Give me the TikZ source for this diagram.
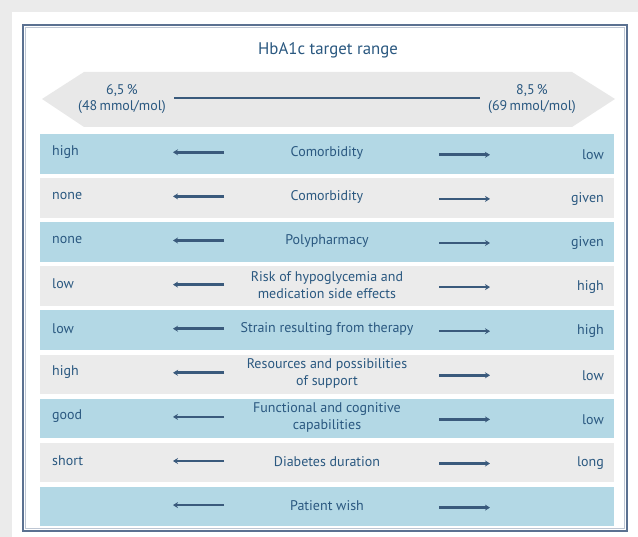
\documentclass[tikz,border=0pt]{standalone}
\usepackage{fontspec}
\setmainfont{PT Sans}
\usetikzlibrary{arrows.meta}

\definecolor{pagegrey}{HTML}{EBEBEB}
\definecolor{framecol}{HTML}{5B7191}
\definecolor{rowblue}{HTML}{B3D8E5}
\definecolor{rowgrey}{HTML}{EBEBEB}
\definecolor{bandgrey}{HTML}{E8E8E8}
\definecolor{textblue}{HTML}{2A5880}
\definecolor{arrowcol}{HTML}{3A5A7C}

\tikzset{
  rowbox/.style={draw=none, minimum width=574pt, minimum height=39.5pt, inner sep=0pt},
  lefttext/.style={anchor=west, text=textblue, font=\fontsize{14}{16}\selectfont, inner sep=0pt},
  righttext/.style={anchor=east, text=textblue, font=\fontsize{14}{16}\selectfont, inner sep=0pt},
  midtext/.style={text=textblue, font=\fontsize{14}{16.5}\selectfont, align=center, inner sep=0pt},
  trend/.style={draw=arrowcol, line width=2.6pt, -{Stealth[length=5pt,width=6pt]}},
  rangeline/.style={draw=arrowcol, line width=2.6pt},
}

\begin{document}
\begin{tikzpicture}[x=1pt, y=-1pt]
  \useasboundingbox (0,0) rectangle (638,537);
  % page background and white panel
  \fill[pagegrey] (0,0) rectangle (638,537);
  \fill[white] (12,12) rectangle (638,537);
  % outer frame
  \draw[framecol, line width=2.4pt] (23,25) rectangle (627,531);
  \draw[framecol!40, line width=0.8pt] (25.8,27.8) rectangle (624.2,528.2);

  % title
  \node[text=textblue, font=\fontsize{16.8}{20}\selectfont] (title) at (328,50) {HbA1c target range};

  % double-headed range band
  \fill[bandgrey] (42,99) -- (84,72) -- (572,72) -- (615,99) -- (572,127) -- (84,127) -- cycle;
  \node[midtext] (lo) at (122,99) {6,5\,\%\\(48\,mmol/mol)};
  \node[midtext] (hi) at (532,99) {8,5\,\%\\(69\,mmol/mol)};
  \coordinate (rl) at (174,98);
  \coordinate (rr) at (480,98);
  \draw[rangeline] (rl) -- (rr);

  % criteria rows
  \foreach \i/\col/\lt/\mt/\rt in {
      0/rowblue/high/Comorbidity/low,
      1/rowgrey/none/Comorbidity/given,
      2/rowblue/none/Polypharmacy/given,
      3/rowgrey/low/{Risk of hypoglycemia and\\medication side effects}/high,
      4/rowblue/low/Strain resulting from therapy/high,
      5/rowgrey/high/{Resources and possibilities\\of support}/low,
      6/rowblue/good/{Functional and cognitive\\capabilities}/low,
      7/rowgrey/short/Diabetes duration/long,
      8/rowblue//Patient wish/} {
    \pgfmathsetmacro{\cy}{153.8+44.1*\i}
    \node[rowbox, fill=\col] (row\i) at (327,\cy) {};
    \node[lefttext] (lt\i) at ([yshift=2pt]row\i.center -| 52,0) {\lt};
    \node[righttext] (rt\i) at ([yshift=-1pt]row\i.center -| 604,0) {\rt};
    \node[midtext] (mt\i) at ([yshift=1pt]row\i.center) {\mt};
    \coordinate (la\i) at ([yshift=1.5pt]row\i.center -| 224,0);
    \coordinate (lb\i) at ([yshift=1.5pt]row\i.center -| 173,0);
    \coordinate (ra\i) at ([yshift=-1pt]row\i.center -| 439,0);
    \coordinate (rb\i) at ([yshift=-1pt]row\i.center -| 490,0);
    \draw[trend] (la\i) -- (lb\i);
    \draw[trend] (ra\i) -- (rb\i);
  }
\end{tikzpicture}
\end{document}
